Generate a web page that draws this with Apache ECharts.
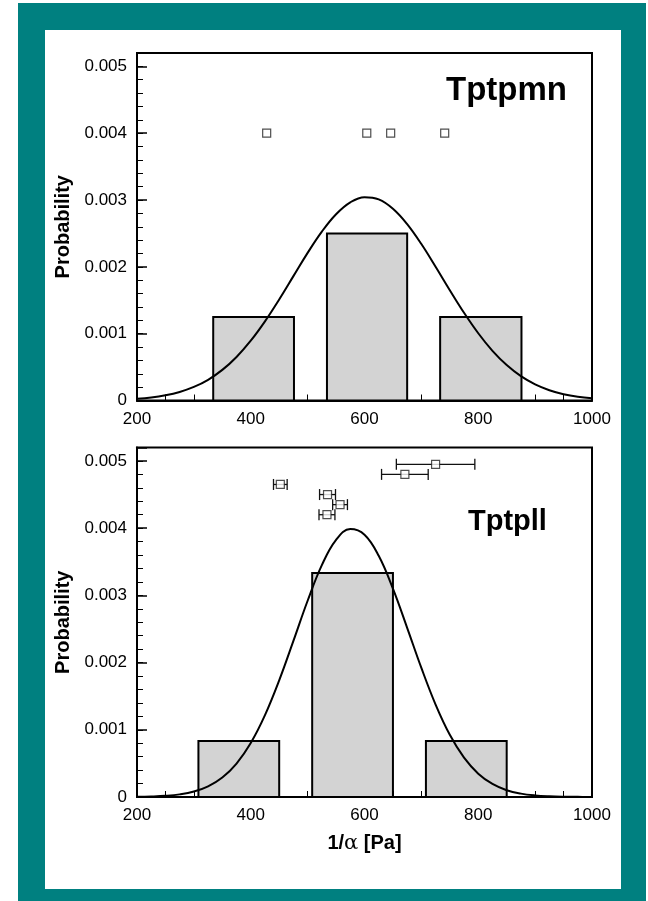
<!DOCTYPE html>
<html>
<head>
<meta charset="utf-8">
<script src="https://cdn.jsdelivr.net/npm/echarts@6/dist/echarts.min.js"></script>
<style>
  html, body { margin: 0; padding: 0; background: #fff; }
  #chart { width: 648px; height: 901px; }
</style>
</head>
<body>
<div id="chart"></div>
<script>
// ---------- data ----------
// shared x positions for the fitted curves
const curveX = [200, 225, 250, 275, 300, 325, 350, 375, 400, 425, 450, 475, 500, 525, 550, 575,
  600, 625, 650, 675, 700, 725, 750, 775, 800, 825, 850, 875, 900, 925, 950, 975, 1000];

// Tptpmn (top panel)
const topSampleX = [428, 604, 646, 741];
const topSampleY = [0.004, 0.004, 0.004, 0.004];
const topBinStart = [334, 534, 733];
const topBinEnd = [476, 675, 876];
const topBinHeight = [0.00125, 0.0025, 0.00125];
const topCurve = [0.000026, 0.000045, 0.000078, 0.000128, 0.000203, 0.000310, 0.000458, 0.000652,
  0.000895, 0.001185, 0.001512, 0.001861, 0.002209, 0.002527, 0.002788, 0.002966,
  0.003043, 0.003010, 0.002870, 0.002640, 0.002341, 0.002001, 0.001650, 0.001312,
  0.001006, 0.000743, 0.000530, 0.000364, 0.000241, 0.000154, 0.000095, 0.000056, 0.000032];

// Tptpll (bottom panel)
const botSampleX = [452, 535, 557, 534, 671, 725];
const botSampleY = [0.00465, 0.0045, 0.00435, 0.0042, 0.0048, 0.00495];
const botSampleErr = [12, 14, 13, 14, 41, 69];
const botBinStart = [308, 508, 708];
const botBinEnd = [450, 650, 850];
const botBinHeight = [0.000833, 0.003333, 0.000833];
const botCurve = [0.000003, 0.000008, 0.000018, 0.000039, 0.000081, 0.000159, 0.000290, 0.000498,
  0.000804, 0.001219, 0.001736, 0.002323, 0.002920, 0.003449, 0.003826, 0.003987,
  0.003903, 0.003589, 0.003100, 0.002517, 0.001920, 0.001375, 0.000925, 0.000585,
  0.000347, 0.000194, 0.000101, 0.000050, 0.000023, 0.000010, 0.000004, 0.000002, 0.000001];

// axis ranges / ticks
const xMin = 200, xMax = 1000, xStep = 200;
const yMin = 0, yMax = 0.0052, yStep = 0.001, yMinorStep = 0.0002;

const FONT = 'Liberation Sans, Arial, Helvetica, sans-serif';
const chart = echarts.init(document.getElementById('chart'));

function zip(a, b) { return a.map((v, i) => [v, b[i]]); }

function renderBin(params, api) {
  const p0 = api.coord([api.value(0), 0]);
  const p1 = api.coord([api.value(1), api.value(2)]);
  return {
    type: 'rect',
    shape: {x: p0[0], y: p1[1], width: p1[0] - p0[0], height: p0[1] - p1[1]},
    style: {fill: '#d3d3d3', stroke: '#000', lineWidth: 2}
  };
}

function renderErr(params, api) {
  const x = api.value(0), y = api.value(1), e = api.value(2);
  const a = api.coord([x - e, y]);
  const b = api.coord([x + e, y]);
  const cap = 5.5;
  const st = {stroke: '#111', lineWidth: 1.3};
  return {
    type: 'group',
    children: [
      {type: 'line', shape: {x1: a[0], y1: a[1], x2: b[0], y2: b[1]}, style: st},
      {type: 'line', shape: {x1: a[0], y1: a[1] - cap, x2: a[0], y2: a[1] + cap}, style: st},
      {type: 'line', shape: {x1: b[0], y1: b[1] - cap, x2: b[0], y2: b[1] + cap}, style: st}
    ]
  };
}

function xAxisOf(gridIndex, withName) {
  const ax = {
    type: 'value', gridIndex: gridIndex,
    min: xMin, max: xMax, interval: xStep,
    axisLine: {show: true, onZero: false, lineStyle: {color: '#000', width: 2}},
    axisTick: {show: true, inside: true, length: 10, lineStyle: {color: '#000', width: 1.5}},
    minorTick: {show: true, splitNumber: 4, length: 6, lineStyle: {color: '#000', width: 1}},
    axisLabel: {
      color: '#000', fontSize: 17, fontFamily: FONT, margin: 10,
      showMinLabel: true, showMaxLabel: true,
      formatter: function (v) { return String(v); }
    },
    splitLine: {show: false}
  };
  if (withName) {
    ax.name = '{b|1/}{a|α}{b| [Pa]}';
    ax.nameLocation = 'middle';
    ax.nameGap = 36;
    ax.nameTextStyle = {
      rich: {
        b: {fontSize: 20, fontWeight: 'bold', fontFamily: FONT, color: '#000'},
        a: {fontSize: 21, fontWeight: 'normal', fontFamily: 'DejaVu Serif, serif', color: '#000'}
      }
    };
  }
  return ax;
}

function yAxesOf(gridIndex) {
  return [{
    type: 'value', gridIndex: gridIndex, position: 'left',
    min: yMin, max: yMax, interval: yStep,
    name: 'Probability', nameLocation: 'middle', nameGap: 62, nameRotate: 90,
    nameTextStyle: {fontSize: 20, fontWeight: 'bold', fontFamily: FONT, color: '#000'},
    axisLine: {show: true, onZero: false, lineStyle: {color: '#000', width: 2}},
    axisTick: {show: true, inside: true, length: 10, lineStyle: {color: '#000', width: 1.5}},
    axisLabel: {
      color: '#000', fontSize: 17, fontFamily: FONT, margin: 10,
      formatter: function (v) {
        const k = Math.round(v / yStep);
        if (Math.abs(v - k * yStep) > 1e-9) return '';
        return k === 0 ? '0' : (k * yStep).toFixed(3);
      }
    },
    splitLine: {show: false}
  }, {
    // minor ticks
    type: 'value', gridIndex: gridIndex, position: 'left', offset: 0,
    min: yMin, max: yMax, interval: yMinorStep,
    axisLine: {show: false, onZero: false},
    axisTick: {show: true, inside: true, length: 6, lineStyle: {color: '#000', width: 1}},
    axisLabel: {show: false},
    splitLine: {show: false}
  }];
}

const option = {
  backgroundColor: '#fff',
  animation: false,
  graphic: [
    {type: 'rect', z: -20, shape: {x: 18, y: 3, width: 628, height: 900}, style: {fill: '#008080'}},
    {type: 'rect', z: -19, shape: {x: 45, y: 30, width: 576, height: 859}, style: {fill: '#fff'}}
  ],
  title: [
    {text: 'Tptpmn', left: 446, top: 74, padding: 0,
      textStyle: {fontSize: 33, fontWeight: 'bold', fontFamily: FONT, color: '#000'}},
    {text: 'Tptpll', left: 468, top: 507, padding: 0,
      textStyle: {fontSize: 29, fontWeight: 'bold', fontFamily: FONT, color: '#000'}}
  ],
  grid: [
    {left: 137, right: 56, top: 53, bottom: 500.5, show: true, borderColor: '#000', borderWidth: 2, backgroundColor: 'transparent'},
    {left: 137, right: 56, top: 447.5, bottom: 104, show: true, borderColor: '#000', borderWidth: 2, backgroundColor: 'transparent'}
  ],
  xAxis: [xAxisOf(0, false), xAxisOf(1, true)],
  yAxis: yAxesOf(0).concat(yAxesOf(1)),
  series: [
    {
      type: 'custom', xAxisIndex: 0, yAxisIndex: 0, renderItem: renderBin,
      encode: {x: [0, 1], y: 2},
      data: topBinStart.map((s, i) => [s, topBinEnd[i], topBinHeight[i]]), z: 2
    },
    {
      type: 'line', xAxisIndex: 0, yAxisIndex: 0, smooth: 0.4, showSymbol: false,
      lineStyle: {color: '#000', width: 2}, data: zip(curveX, topCurve), z: 3
    },
    {
      type: 'scatter', xAxisIndex: 0, yAxisIndex: 0, symbol: 'rect', symbolSize: 8,
      itemStyle: {color: '#fff', borderColor: '#222', borderWidth: 1.2},
      data: zip(topSampleX, topSampleY), z: 5
    },
    {
      type: 'custom', xAxisIndex: 1, yAxisIndex: 2, renderItem: renderBin,
      encode: {x: [0, 1], y: 2},
      data: botBinStart.map((s, i) => [s, botBinEnd[i], botBinHeight[i]]), z: 2
    },
    {
      type: 'line', xAxisIndex: 1, yAxisIndex: 2, smooth: 0.4, showSymbol: false,
      lineStyle: {color: '#000', width: 2}, data: zip(curveX, botCurve), z: 3
    },
    {
      type: 'custom', xAxisIndex: 1, yAxisIndex: 2, renderItem: renderErr,
      encode: {x: 0, y: 1},
      data: botSampleX.map((x, i) => [x, botSampleY[i], botSampleErr[i]]), z: 4
    },
    {
      type: 'scatter', xAxisIndex: 1, yAxisIndex: 2, symbol: 'rect', symbolSize: 8,
      itemStyle: {color: '#fff', borderColor: '#222', borderWidth: 1.2},
      data: zip(botSampleX, botSampleY), z: 5
    }
  ]
};

chart.setOption(option);
window.addEventListener('resize', function () { chart.resize(); });
</script>
</body>
</html>
